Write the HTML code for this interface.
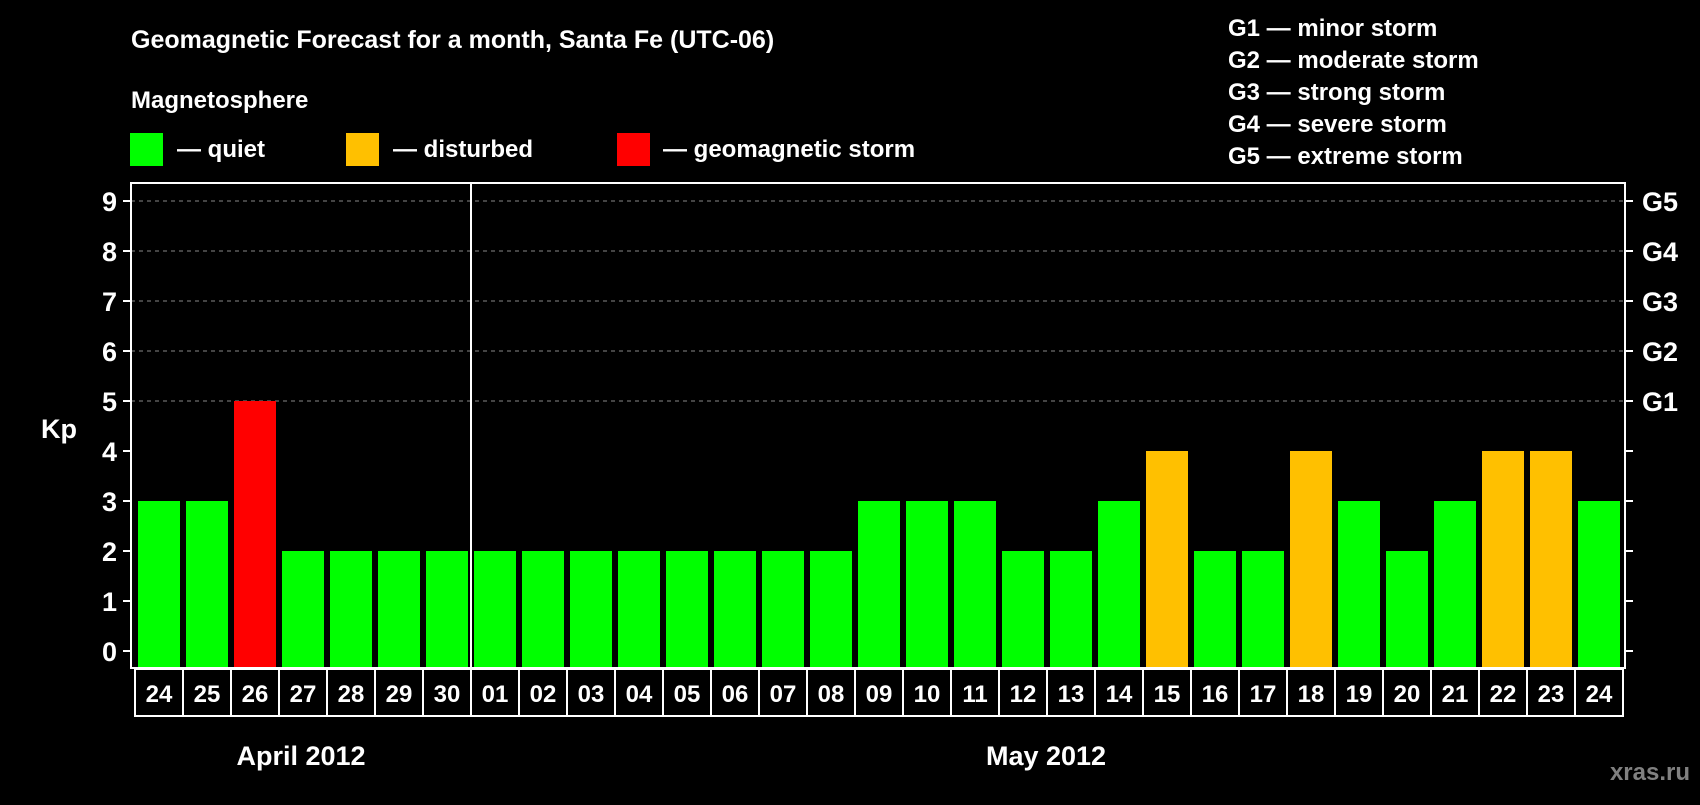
<!DOCTYPE html>
<html><head><meta charset="utf-8"><style>
body{margin:0;background:#000;width:1700px;height:800px;overflow:hidden}
svg text{font-family:"Liberation Sans",Arial,sans-serif;font-weight:bold;fill:#fff}
</style></head><body>
<svg id="c" width="1700" height="800">
<text x="131" y="48" font-size="25">Geomagnetic Forecast for a month, Santa Fe (UTC-06)</text>
<text x="131" y="108" font-size="24">Magnetosphere</text>
<g>
<rect x="130" y="133" width="33" height="33" fill="#00ff00"/>
<text x="177" y="157" font-size="24">— quiet</text>
<rect x="346" y="133" width="33" height="33" fill="#ffc000"/>
<text x="393" y="157" font-size="24">— disturbed</text>
<rect x="617" y="133" width="33" height="33" fill="#ff0000"/>
<text x="663" y="157" font-size="24">— geomagnetic storm</text>
</g>
<g font-size="24">
<text x="1228" y="36" font-size="24">G1 — minor storm</text>
<text x="1228" y="68" font-size="24">G2 — moderate storm</text>
<text x="1228" y="100" font-size="24">G3 — strong storm</text>
<text x="1228" y="132" font-size="24">G4 — severe storm</text>
<text x="1228" y="164" font-size="24">G5 — extreme storm</text>
</g>
<text x="41" y="438" font-size="27">Kp</text>
<g id="plot"></g>
<text x="301" y="765" font-size="27" text-anchor="middle">April 2012</text>
<text x="1046" y="765" font-size="27" text-anchor="middle">May 2012</text>
<text x="1690" y="780" font-size="24" text-anchor="end" style="fill:#808080">xras.ru</text>
</svg>
<script>
const days=["24","25","26","27","28","29","30","01","02","03","04","05","06","07","08","09","10","11","12","13","14","15","16","17","18","19","20","21","22","23","24"];
const kp=[3,3,5,2,2,2,2,2,2,2,2,2,2,2,2,3,3,3,2,2,3,4,2,2,4,3,2,3,4,4,3];
const yTicks=[0,1,2,3,4,5,6,7,8,9];
const gLabels=["G1","G2","G3","G4","G5"];
const NS="http://www.w3.org/2000/svg";
const g=document.getElementById('plot');
const L=131,R=1625,T=183,B=668,x0=135,cw=48;
const y=v=>651-50*v;
const xs=i=>x0+i*cw;
function mk(t,a,p){const e=document.createElementNS(NS,t);for(const k in a)e.setAttribute(k,a[k]);(p||g).appendChild(e);return e;}
function color(v){return v>=5?"#ff0000":v>=4?"#ffc000":"#00ff00";}
yTicks.forEach(v=>{
  if(v>=5){const l=mk('line',{x1:L,x2:R,y1:y(v),y2:y(v),stroke:'#888','stroke-dasharray':'4,4','stroke-width':1});
  
  }
  const t1=mk('line',{x1:L-8,x2:L,y1:y(v),y2:y(v),stroke:'#fff','stroke-width':2});
  
  
  const t2=mk('line',{x1:R,x2:R+8,y1:y(v),y2:y(v),stroke:'#fff','stroke-width':2});
  
  
  const tx=mk('text',{x:L-14,y:y(v)+10,'text-anchor':'end','font-size':27});
  tx.textContent=v;
  
  
});
gLabels.forEach((s,i)=>{
  const tx=mk('text',{x:R+17,y:y(5+i)+10,'font-size':27});
  tx.textContent=s;
  
  
});
kp.forEach((v,i)=>{
  const r=mk('rect',{x:xs(i)+3,y:y(v),width:42,height:B-y(v),fill:color(v)});
  
  
  const c=mk('rect',{x:xs(i),y:B+1,width:cw,height:47,fill:'none',stroke:'#fff','stroke-width':2});
  
  
  const t=mk('text',{x:xs(i)+cw/2,y:B+34,'text-anchor':'middle','font-size':24});
  t.textContent=days[i];
  
  
});
const d=mk('line',{x1:xs(7),x2:xs(7),y1:T,y2:B,stroke:'#fff','stroke-width':2});


const f=mk('rect',{x:L,y:T,width:R-L,height:B-T,fill:'none',stroke:'#fff','stroke-width':2});


</script>
</body></html>
